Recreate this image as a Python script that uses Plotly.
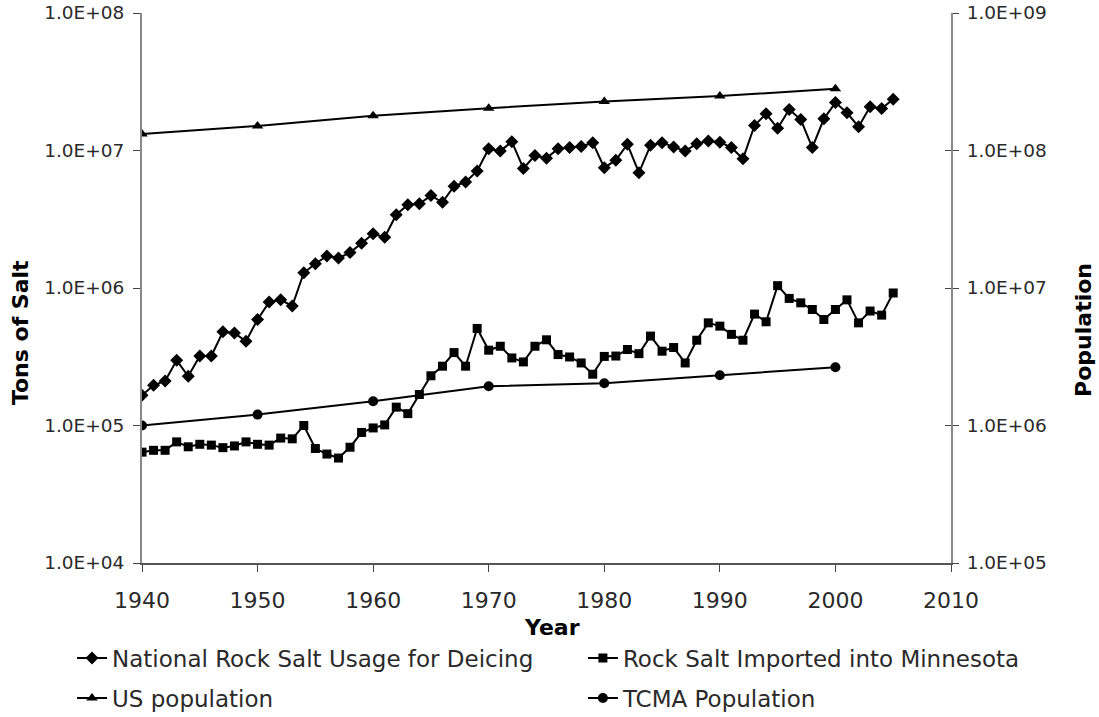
import plotly.graph_objects as go

# annual series, 1940-2005
salt_years = list(range(1940, 2006))
national_salt = [
    1.66e5, 1.96e5, 2.11e5, 2.98e5, 2.28e5, 3.2e5, 3.2e5, 4.8e5, 4.7e5, 4.1e5,
    5.9e5, 7.9e5, 8.2e5, 7.4e5, 1.29e6, 1.5e6, 1.71e6, 1.65e6, 1.81e6, 2.12e6,
    2.48e6, 2.34e6, 3.41e6, 4.03e6, 4.1e6, 4.7e6, 4.2e6, 5.5e6, 5.9e6, 7.1e6,
    1.03e7, 9.9e6, 1.16e7, 7.4e6, 9.2e6, 8.8e6, 1.03e7, 1.05e7, 1.07e7, 1.14e7,
    7.5e6, 8.5e6, 1.11e7, 6.9e6, 1.09e7, 1.14e7, 1.06e7, 9.9e6, 1.12e7, 1.17e7,
    1.15e7, 1.05e7, 8.7e6, 1.52e7, 1.85e7, 1.45e7, 1.99e7, 1.68e7, 1.05e7, 1.70e7,
    2.23e7, 1.88e7, 1.49e7, 2.08e7, 2.02e7, 2.36e7,
]
minnesota_salt = [
    6.4e4, 6.6e4, 6.6e4, 7.6e4, 7.0e4, 7.3e4, 7.2e4, 6.9e4, 7.1e4, 7.6e4,
    7.3e4, 7.2e4, 8.1e4, 8.0e4, 1.0e5, 6.8e4, 6.2e4, 5.8e4, 6.95e4, 8.9e4,
    9.6e4, 1.01e5, 1.36e5, 1.22e5, 1.68e5, 2.3e5, 2.7e5, 3.39e5, 2.7e5, 5.08e5,
    3.53e5, 3.77e5, 3.1e5, 2.9e5, 3.77e5, 4.2e5, 3.28e5, 3.15e5, 2.85e5, 2.36e5,
    3.18e5, 3.2e5, 3.57e5, 3.33e5, 4.47e5, 3.47e5, 3.69e5, 2.85e5, 4.17e5, 5.58e5,
    5.28e5, 4.6e5, 4.17e5, 6.46e5, 5.68e5, 1.04e6, 8.4e5, 7.8e5, 6.98e5, 5.9e5,
    6.98e5, 8.2e5, 5.58e5, 6.8e5, 6.35e5, 9.2e5,
]

# census years
census_years = [1940, 1950, 1960, 1970, 1980, 1990, 2000]
us_population = [1.32e8, 1.51e8, 1.79e8, 2.03e8, 2.27e8, 2.49e8, 2.81e8]
tcma_population = [1.0e6, 1.2e6, 1.5e6, 1.93e6, 2.03e6, 2.32e6, 2.65e6]

left_ticks = [1e4, 1e5, 1e6, 1e7, 1e8]
left_labels = ["1.0E+04", "1.0E+05", "1.0E+06", "1.0E+07", "1.0E+08"]
right_ticks = [1e5, 1e6, 1e7, 1e8, 1e9]
right_labels = ["1.0E+05", "1.0E+06", "1.0E+07", "1.0E+08", "1.0E+09"]

FONT = "DejaVu Sans"
TXT = "#2a2a2a"
AXIS = "#888888"


def series(x, y, name, symbol, size, yaxis, legend):
    return go.Scatter(
        x=x, y=y, name=name, mode="lines+markers",
        line=dict(color="black", width=2),
        marker=dict(symbol=symbol, size=size, color="black"),
        yaxis=yaxis, legend=legend,
    )


fig = go.Figure()
fig.add_trace(series(salt_years, national_salt,
                     "National Rock Salt Usage for Deicing", "diamond", 10, "y", "legend"))
fig.add_trace(series(salt_years, minnesota_salt,
                     "Rock Salt Imported into Minnesota", "square", 9, "y", "legend2"))
fig.add_trace(series(census_years, us_population,
                     "US population", "triangle-up", 10, "y2", "legend3"))
fig.add_trace(series(census_years, tcma_population,
                     "TCMA Population", "circle", 10, "y2", "legend4"))
# empty trace so the tick-only overlay axis gets drawn
fig.add_trace(go.Scatter(x=[], y=[], yaxis="y3", showlegend=False, hoverinfo="skip"))

legend_base = dict(font=dict(family=FONT, size=23, color=TXT),
                   bgcolor="rgba(0,0,0,0)", yanchor="middle", xanchor="left",
                   itemwidth=30)

title_font = dict(family=FONT, size=22, color="black")

fig.update_layout(
    width=1099, height=717,
    margin=dict(l=142, r=148, t=13, b=154, autoexpand=False),
    paper_bgcolor="white", plot_bgcolor="white",
    font=dict(family=FONT, size=16, color=TXT),
    showlegend=True,
    legend=dict(legend_base, x=-0.0865, y=-0.1727),
    legend2=dict(legend_base, x=0.545, y=-0.1727),
    legend3=dict(legend_base, x=-0.0865, y=-0.2455),
    legend4=dict(legend_base, x=0.545, y=-0.2455),
    xaxis=dict(
        range=[1940, 2010], dtick=10, tick0=1940, automargin=False,
        showgrid=False, zeroline=False,
        showline=True, linecolor="#555555", linewidth=2,
        ticks="outside", ticklen=7, tickcolor="#444444",
        ticklabelstandoff=10, ticklabeloverflow="allow",
        tickfont=dict(family=FONT, size=22, color=TXT),
    ),
    yaxis=dict(
        type="log", range=[4, 8], automargin=False,
        tickvals=left_ticks, ticktext=left_labels,
        showgrid=False, zeroline=False,
        showline=True, linecolor=AXIS, linewidth=2,
        ticks="outside", ticklen=7, tickcolor="#444444",
        ticklabelstandoff=5, ticklabeloverflow="allow",
        tickfont=dict(family=FONT, size=18.5, color=TXT),
    ),
    yaxis2=dict(
        type="log", range=[5, 9], overlaying="y", side="right", automargin=False,
        tickvals=right_ticks, ticktext=right_labels,
        showgrid=False, zeroline=False,
        showline=True, linecolor=AXIS, linewidth=2,
        ticks="outside", ticklen=6, tickcolor="#444444",
        ticklabelstandoff=4, ticklabeloverflow="allow",
        tickfont=dict(family=FONT, size=18.5, color=TXT),
    ),
    yaxis3=dict(
        type="log", range=[5, 9], overlaying="y", side="right", automargin=False,
        tickvals=right_ticks, showticklabels=False,
        showgrid=False, zeroline=False, showline=False,
        ticks="inside", ticklen=6, tickcolor="#444444",
    ),
    annotations=[
        dict(text="<b>Tons of Salt</b>", xref="paper", yref="paper",
             x=-0.1508, y=0.418, xanchor="center", yanchor="middle",
             textangle=-90, showarrow=False, font=title_font),
        dict(text="<b>Population</b>", xref="paper", yref="paper",
             x=1.163, y=0.4236, xanchor="center", yanchor="middle",
             textangle=-90, showarrow=False, font=title_font),
        dict(text="<b>Year</b>", xref="paper", yref="paper",
             x=0.5068, y=-0.1164, xanchor="center", yanchor="middle",
             showarrow=False, font=title_font),
    ],
)

# drop the default 8px page margin so the figure sits at the window's corner
fig.write_html("out.html", config={"displayModeBar": False},
               post_script="document.body.style.margin = '0px';")
